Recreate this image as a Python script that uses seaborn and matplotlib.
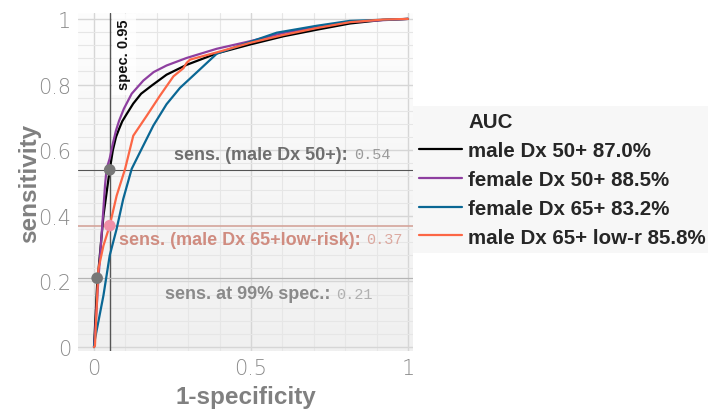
import numpy as np
import pandas as pd
import matplotlib
matplotlib.use("Agg")
import matplotlib.pyplot as plt
from matplotlib.lines import Line2D
import seaborn as sns

# ROC curves (x = 1-specificity, y = sensitivity)
male50_x = [0.0, 0.01, 0.03, 0.05, 0.06, 0.07, 0.08, 0.09, 0.104, 0.125, 0.15, 0.184, 0.231, 0.295, 0.391, 0.497, 0.603, 0.709, 0.815, 0.92, 1.0]
male50_y = [0.0, 0.19, 0.40, 0.54, 0.60, 0.64, 0.665, 0.688, 0.71, 0.742, 0.772, 0.797, 0.830, 0.860, 0.895, 0.922, 0.947, 0.967, 0.986, 0.997, 1.0]
female50_x = [0.0, 0.003, 0.014, 0.024, 0.035, 0.04, 0.05, 0.06, 0.07, 0.08, 0.095, 0.12, 0.157, 0.19, 0.231, 0.295, 0.391, 0.497, 0.603, 0.709, 0.815, 1.0]
female50_y = [0.0, 0.034, 0.207, 0.339, 0.492, 0.543, 0.575, 0.62, 0.66, 0.69, 0.726, 0.772, 0.812, 0.838, 0.858, 0.881, 0.909, 0.932, 0.957, 0.976, 0.991, 1.0]
female65_x = [0.0, 0.003, 0.03, 0.05, 0.072, 0.093, 0.12, 0.146, 0.189, 0.231, 0.274, 0.327, 0.391, 0.497, 0.582, 0.709, 0.815, 1.0]
female65_y = [0.0, 0.024, 0.157, 0.279, 0.36, 0.451, 0.543, 0.593, 0.675, 0.74, 0.79, 0.837, 0.894, 0.930, 0.958, 0.979, 0.994, 1.0]
male65_x = [0.0, 0.003, 0.014, 0.03, 0.05, 0.072, 0.099, 0.125, 0.168, 0.21, 0.253, 0.285, 0.295, 0.306, 0.391, 0.497, 0.603, 0.709, 0.815, 0.92, 1.0]
male65_y = [0.0, 0.004, 0.238, 0.309, 0.37, 0.461, 0.543, 0.644, 0.705, 0.766, 0.825, 0.850, 0.866, 0.876, 0.898, 0.927, 0.951, 0.972, 0.990, 0.998, 1.0]

labels = ["male Dx 50+ 87.0%", "female Dx 50+ 88.5%", "female Dx 65+ 83.2%", "male Dx 65+ low-r 85.8%"]
colors = ["#000000", "#8e3fa0", "#0a6794", "#fc6645"]

# marked operating points
spec_cut = 0.05
sens_names = ["sens. (male Dx 50+):", "sens. (male Dx 65+low-risk):", "sens. at 99% spec.:"]
sens_vals = [0.54, 0.37, 0.21]
sens_x = [0.05, 0.05, 0.01]

rows = []
for lab, xs, ys in zip(labels, [male50_x, female50_x, female65_x, male65_x],
                       [male50_y, female50_y, female65_y, male65_y]):
    for a, b in zip(xs, ys):
        rows.append({"fpr": a, "tpr": b, "model": lab})
df = pd.DataFrame(rows)

sns.set_theme(style="white")
plt.rcParams["font.family"] = ["Liberation Sans", "DejaVu Sans"]

fig = plt.figure(figsize=(7.08, 4.10), dpi=100)
ax = fig.add_axes([78 / 708, 1 - 352 / 410, 335 / 708, 338 / 410])

xlim = (-0.051, 1.016)
ylim = (-0.012, 1.018)

# panel background, light gradient
grad = np.linspace(0, 1, 256).reshape(-1, 1)
ax.imshow(grad, extent=[xlim[0], xlim[1], ylim[0], ylim[1]], aspect="auto",
          cmap=matplotlib.colors.LinearSegmentedColormap.from_list("bg", ["#f0f0f0", "#fdfdfd"]),
          origin="lower", zorder=0)

# grid: minor and major
for gx in np.arange(0, 1.0001, 0.1):
    major = abs(gx * 2 - round(gx * 2)) < 1e-6
    ax.axvline(gx, color="#d6d6d6" if major else "#e6e6e6", lw=1.0 if major else 0.8, zorder=1)
for gy in np.arange(0, 1.0001, 0.04):
    major = abs(gy * 5 - round(gy * 5)) < 1e-6
    ax.axhline(gy, color="#d6d6d6" if major else "#e6e6e6", lw=1.0 if major else 0.8, zorder=1)

# label for the specificity cut (under the curves)
ax.text(spec_cut + 0.022, 1.0, "spec. 0.95", rotation=90, ha="left", va="top",
        fontsize=10.5, fontweight="bold", color="#111111", zorder=1.5,
        bbox=dict(boxstyle="square,pad=0.35", fc="white", ec="none", alpha=0.8))

# reference lines
ax.axvline(spec_cut, color="#555555", lw=1.0, zorder=2)
ax.axhline(sens_vals[0], color="#555555", lw=0.8, zorder=2)
ax.axhline(sens_vals[1], color="#d4a49a", lw=1.2, zorder=2)
ax.axhline(sens_vals[2], color="#b5b5b5", lw=0.9, zorder=2)

sns.lineplot(data=df, x="fpr", y="tpr", hue="model", palette=colors, hue_order=labels,
             sort=False, estimator=None, units="model", lw=1.6, ax=ax, legend=False, zorder=3)

pt_colors = ["#777777", "#f08fa8", "#777777"]
ax.scatter(sens_x, sens_vals, s=70, c=pt_colors, zorder=5, edgecolors="none")

txt_cols = ["#6e6e6e", "#d08c80", "#8a8a8a"]
val_cols = ["#9a9a9a", "#dca89f", "#b0b0b0"]
junction = [0.809, 0.850, 0.752]
ty = [0.588, 0.329, 0.162]
for name, v, jx, yy, c1, c2 in zip(sens_names, sens_vals, junction, ty, txt_cols, val_cols):
    ax.text(jx, yy, name, ha="right", va="center", fontsize=13, fontweight="bold", color=c1, zorder=4)
    ax.text(jx + 0.018, yy, f"{v:.2f}", ha="left", va="center", fontsize=11,
            family=["Liberation Mono", "DejaVu Sans Mono"], color=c2, zorder=4)

ax.set_xlim(xlim)
ax.set_ylim(ylim)
ax.set_xticks([0, 0.5, 1])
ax.set_xticklabels(["0", "0.5", "1"])
ax.set_yticks([0, 0.2, 0.4, 0.6, 0.8, 1])
ax.set_yticklabels(["0", "0.2", "0.4", "0.6", "0.8", "1"])
for t in ax.get_xticklabels() + ax.get_yticklabels():
    t.set_family("DejaVu Sans")
    t.set_fontweight("light")
    t.set_fontsize(15)
    t.set_color("#8a8a8a")
ax.tick_params(length=0, pad=5)
for s in ax.spines.values():
    s.set_visible(False)

ax.set_xlabel("1-specificity", fontsize=17.5, fontweight="bold", color="#808080", labelpad=5)
ax.set_ylabel("sensitivity", fontsize=17.5, fontweight="bold", color="#808080", labelpad=-2)

handles = [Line2D([], [], color="none")] + [Line2D([], [], color=c, lw=1.6) for c in colors]
leg = fig.legend(handles, ["AUC"] + labels, loc="upper left",
                 bbox_to_anchor=(413 / 708, 1 - 107 / 410), frameon=True,
                 prop={"weight": "bold", "size": 14.8}, handlelength=2.1,
                 handletextpad=0.3, labelspacing=0.48, borderpad=0.3, borderaxespad=0)
leg.get_frame().set_facecolor("#f5f5f5")
leg.get_frame().set_edgecolor("none")
leg.get_frame().set_boxstyle("square", pad=0)

fig.savefig("out.png", dpi=100)
